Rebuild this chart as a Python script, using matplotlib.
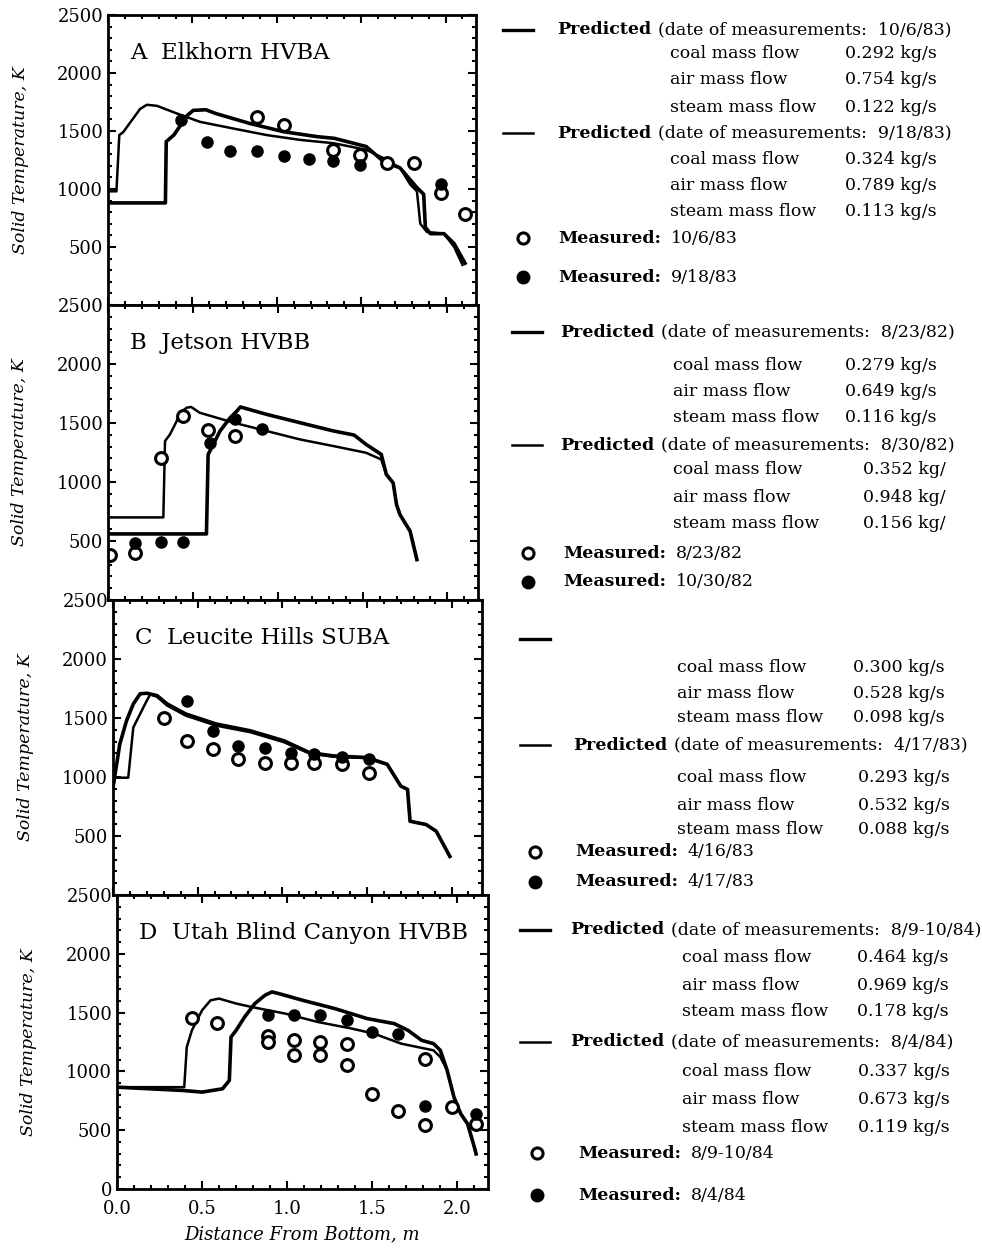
import matplotlib
matplotlib.use('Agg')
import matplotlib.pyplot as plt
from matplotlib.lines import Line2D
from matplotlib.ticker import MultipleLocator

plt.rcParams['font.family'] = 'DejaVu Serif'

W, H = 982, 1249

# ---- panel A: Elkhorn HVBA ----
a_pred1_x = [0.0, 0.05, 0.067, 0.09, 0.19, 0.23, 0.29, 0.41, 0.545, 0.74, 0.94, 1.14, 1.335, 1.53, 1.63, 1.73, 1.79, 1.83, 1.85, 1.89, 1.99, 2.05, 2.10]
a_pred1_T = [980, 980, 1465, 1490, 1690, 1726, 1717, 1650, 1579, 1522, 1465, 1423, 1395, 1338, 1267, 1182, 1040, 980, 700, 629, 615, 502, 346]
a_pred2_x = [0.0, 0.34, 0.345, 0.39, 0.43, 0.47, 0.505, 0.58, 0.64, 0.84, 1.04, 1.24, 1.34, 1.53, 1.63, 1.73, 1.83, 1.87, 1.88, 1.91, 1.99, 2.05, 2.115]
a_pred2_T = [880, 880, 1409, 1465, 1550, 1635, 1678, 1683, 1650, 1565, 1494, 1451, 1437, 1366, 1239, 1182, 1012, 955, 670, 615, 615, 530, 360]
a_open_x = [0.88, 1.04, 1.335, 1.49, 1.65, 1.81, 1.97, 2.115]
a_open_T = [1621, 1550, 1338, 1295, 1224, 1224, 969, 785]
a_fill_x = [0.43, 0.585, 0.72, 0.88, 1.04, 1.19, 1.335, 1.49, 1.97]
a_fill_T = [1593, 1403, 1324, 1324, 1281, 1258, 1238, 1210, 1040]

# ---- panel B: Jetson HVBB ----
b_pred1_x = [0.0, 0.326, 0.336, 0.365, 0.405, 0.424, 0.464, 0.49, 0.54, 0.64, 0.74, 0.935, 1.13, 1.33, 1.52, 1.61, 1.64, 1.68, 1.70, 1.72, 1.78, 1.82]
b_pred1_T = [700, 700, 1347, 1403, 1517, 1587, 1630, 1636, 1587, 1545, 1503, 1432, 1361, 1304, 1248, 1191, 1064, 993, 809, 724, 583, 342]
b_pred2_x = [0.0, 0.58, 0.59, 0.62, 0.66, 0.72, 0.76, 0.78, 0.935, 1.13, 1.33, 1.45, 1.52, 1.61, 1.64, 1.68, 1.70, 1.72, 1.78, 1.82]
b_pred2_T = [560, 560, 1234, 1318, 1432, 1545, 1602, 1636, 1573, 1503, 1432, 1398, 1319, 1234, 1064, 993, 809, 724, 583, 342]
b_open_x = [0.01, 0.16, 0.31, 0.44, 0.59, 0.75]
b_open_T = [385, 399, 1205, 1559, 1437, 1389]
b_fill_x = [0.16, 0.31, 0.44, 0.60, 0.75, 0.91]
b_fill_T = [484, 490, 490, 1327, 1530, 1446]

# ---- panel C: Leucite Hills SUBA ----
c_pred1_x = [0.0, 0.01, 0.09, 0.12, 0.16, 0.20, 0.22, 0.26, 0.32, 0.43, 0.61, 0.81, 1.01, 1.16, 1.30, 1.50, 1.62, 1.70, 1.74, 1.755, 1.85, 1.91, 1.99]
c_pred1_T = [937, 994, 994, 1420, 1534, 1648, 1700, 1680, 1605, 1520, 1435, 1380, 1295, 1200, 1172, 1160, 1105, 923, 895, 625, 597, 540, 327]
c_pred2_x = [0.0, 0.04, 0.08, 0.12, 0.16, 0.20, 0.26, 0.32, 0.43, 0.61, 0.81, 1.01, 1.16, 1.30, 1.50, 1.62, 1.70, 1.74, 1.755, 1.85, 1.91, 1.99]
c_pred2_T = [909, 1278, 1477, 1619, 1705, 1710, 1690, 1619, 1534, 1449, 1392, 1307, 1207, 1179, 1165, 1108, 923, 895, 625, 597, 540, 327]
c_open_x = [0.30, 0.44, 0.59, 0.74, 0.90, 1.05, 1.19, 1.35, 1.51]
c_open_T = [1500, 1307, 1236, 1151, 1122, 1122, 1122, 1108, 1037]
c_fill_x = [0.44, 0.59, 0.74, 0.90, 1.05, 1.19, 1.35, 1.51]
c_fill_T = [1642, 1386, 1264, 1244, 1207, 1193, 1170, 1150]

# ---- panel D: Utah Blind Canyon HVBB ----
d_pred1_x = [0.0, 0.395, 0.41, 0.44, 0.50, 0.55, 0.60, 0.70, 0.79, 0.99, 1.18, 1.38, 1.51, 1.67, 1.86, 1.90, 1.94, 1.98, 2.02, 2.06, 2.10, 2.11]
d_pred1_T = [866, 866, 1207, 1349, 1520, 1605, 1619, 1577, 1548, 1491, 1420, 1364, 1321, 1236, 1179, 1122, 1009, 781, 639, 554, 355, 298]
d_pred2_x = [0.0, 0.385, 0.50, 0.62, 0.66, 0.67, 0.70, 0.75, 0.81, 0.87, 0.91, 0.95, 1.09, 1.28, 1.47, 1.63, 1.71, 1.79, 1.86, 1.90, 1.94, 1.98, 2.02, 2.06, 2.10, 2.11]
d_pred2_T = [866, 838, 824, 852, 923, 1293, 1349, 1463, 1577, 1648, 1676, 1662, 1605, 1534, 1449, 1406, 1349, 1264, 1236, 1179, 1009, 781, 639, 554, 355, 298]
d_open_x = [0.44, 0.59, 0.89, 0.89, 1.04, 1.04, 1.19, 1.19, 1.35, 1.35, 1.50, 1.65, 1.81, 1.81, 1.97, 2.11]
d_open_T = [1457, 1415, 1301, 1250, 1270, 1136, 1250, 1136, 1230, 1051, 810, 662, 540, 1108, 696, 554]
d_fill_x = [0.89, 1.04, 1.19, 1.35, 1.50, 1.65, 1.81, 2.11]
d_fill_T = [1477, 1477, 1483, 1435, 1335, 1315, 710, 639]

titles = ['A  Elkhorn HVBA', 'B  Jetson HVBB', 'C  Leucite Hills SUBA', 'D  Utah Blind Canyon HVBB']

# legend texts
pred_dates = [['10/6/83', '9/18/83'], ['8/23/82', '8/30/82'], [None, '4/17/83'], ['8/9-10/84', '8/4/84']]
meas_dates = [['10/6/83', '9/18/83'], ['8/23/82', '10/30/82'], ['4/16/83', '4/17/83'], ['8/9-10/84', '8/4/84']]
flow_names = ['coal mass flow', 'air mass flow', 'steam mass flow']
flow_vals = [
    [['0.292 kg/s', '0.754 kg/s', '0.122 kg/s'], ['0.324 kg/s', '0.789 kg/s', '0.113 kg/s']],
    [['0.279 kg/s', '0.649 kg/s', '0.116 kg/s'], ['0.352 kg/', '0.948 kg/', '0.156 kg/']],
    [['0.300 kg/s', '0.528 kg/s', '0.098 kg/s'], ['0.293 kg/s', '0.532 kg/s', '0.088 kg/s']],
    [['0.464 kg/s', '0.969 kg/s', '0.178 kg/s'], ['0.337 kg/s', '0.673 kg/s', '0.119 kg/s']],
]

panels = [
    (a_pred1_x, a_pred1_T, a_pred2_x, a_pred2_T, a_open_x, a_open_T, a_fill_x, a_fill_T),
    (b_pred1_x, b_pred1_T, b_pred2_x, b_pred2_T, b_open_x, b_open_T, b_fill_x, b_fill_T),
    (c_pred1_x, c_pred1_T, c_pred2_x, c_pred2_T, c_open_x, c_open_T, c_fill_x, c_fill_T),
    (d_pred1_x, d_pred1_T, d_pred2_x, d_pred2_T, d_open_x, d_open_T, d_fill_x, d_fill_T),
]

# axes boxes in pixels (left, right, top, bottom) - scan is slightly skewed
boxes = [(108, 476, 15, 305), (108, 478, 305, 600), (113, 482, 600, 895), (117, 488, 895, 1189)]

# legend layout in pixels
leg = [
    dict(line_x=503, mark_x=523, pred_x=557, flow_x=670, val_x=[845, 845],
         pred_y=[30, 133], flow_y=[[53, 80, 107], [160, 185, 212]], meas_y=[238, 277], meas_tx=558),
    dict(line_x=512, mark_x=528, pred_x=560, flow_x=673, val_x=[845, 863],
         pred_y=[332, 445], flow_y=[[365, 392, 418], [470, 497, 523]], meas_y=[553, 582], meas_tx=563),
    dict(line_x=520, mark_x=535, pred_x=573, flow_x=677, val_x=[853, 858],
         pred_y=[639, 745], flow_y=[[667, 693, 718], [777, 805, 830]], meas_y=[852, 882], meas_tx=575),
    dict(line_x=520, mark_x=537, pred_x=570, flow_x=682, val_x=[857, 858],
         pred_y=[930, 1042], flow_y=[[958, 985, 1012], [1072, 1099, 1127]], meas_y=[1153, 1195], meas_tx=578),
]


def fx(px):
    return px / W


def fy(py):
    return 1 - py / H


fig = plt.figure(figsize=(W / 100, H / 100), dpi=100)
renderer = fig.canvas.get_renderer()


def text_after(first, gap, s, **kw):
    # put s right after the text artist `first`
    bb = first.get_window_extent(renderer=renderer)
    x, y = first.get_position()
    return fig.text(fx(bb.x1 + gap), y, s, **kw)


for i, (p, box) in enumerate(zip(panels, boxes)):
    l, r, t, b = box
    ax = fig.add_axes([fx(l), fy(b), (r - l) / W, (b - t) / H])
    p1x, p1T, p2x, p2T, ox, oT, fxs, fT = p
    ax.plot(p1x, p1T, color='black', lw=1.8)
    ax.plot(p2x, p2T, color='black', lw=2.6)
    ax.plot(ox, oT, 'o', ms=8.5, mfc='white', mec='black', mew=2.2, ls='none')
    ax.plot(fxs, fT, 'o', ms=8, color='black', ls='none')
    ax.set_xlim(0, 2.18)
    ax.set_ylim(0, 2500)
    ax.xaxis.set_major_locator(MultipleLocator(0.5))
    ax.xaxis.set_minor_locator(MultipleLocator(0.1))
    ax.set_yticks(range(0, 2501, 100), minor=True)
    ax.tick_params(which='both', direction='in', top=True, right=True, labelsize=13, width=1.5)
    ax.tick_params(which='major', length=6)
    ax.tick_params(which='minor', length=3)
    ax.tick_params(axis='x', pad=8)
    for s in ax.spines.values():
        s.set_linewidth(2)
    if i < 3:
        ax.set_yticks([500, 1000, 1500, 2000, 2500])
        ax.tick_params(labelbottom=False)
    else:
        ax.set_yticks([0, 500, 1000, 1500, 2000, 2500])
        ax.set_xticks([0.0, 0.5, 1.0, 1.5, 2.0])
        ax.set_xticklabels(['0.0', '0.5', '1.0', '1.5', '2.0'])
        ax.set_xlabel('Distance From Bottom, m', fontsize=13, style='italic', labelpad=5)
    ax.set_ylabel('Solid Temperature, K', fontsize=12.5, style='italic')
    ax.yaxis.set_label_coords(-0.215, 0.5)
    ax.text(0.06, 0.87, titles[i], transform=ax.transAxes, fontsize=16.5, va='center')

# legend text on the right
fs = 12.5
for i, L in enumerate(leg):
    for k in range(2):
        y = L['pred_y'][k]
        fig.add_artist(Line2D([fx(L['line_x']), fx(L['line_x'] + 30)], [fy(y), fy(y)],
                              color='black', lw=2.4 if k == 0 else 1.8))
        if pred_dates[i][k] is not None:
            t = fig.text(fx(L['pred_x']), fy(y), 'Predicted', fontsize=fs, fontweight='bold', va='center')
            text_after(t, 7, '(date of measurements:  ' + pred_dates[i][k] + ')', fontsize=fs, va='center')
        for j in range(3):
            yy = L['flow_y'][k][j]
            fig.text(fx(L['flow_x']), fy(yy), flow_names[j], fontsize=fs, va='center')
            fig.text(fx(L['val_x'][k]), fy(yy), flow_vals[i][k][j], fontsize=fs, va='center')
    for k in range(2):
        y = L['meas_y'][k]
        if k == 0:
            fig.add_artist(Line2D([fx(L['mark_x'])], [fy(y)], marker='o', ms=8, mfc='white',
                                  mec='black', mew=2.2, ls='none'))
        else:
            fig.add_artist(Line2D([fx(L['mark_x'])], [fy(y)], marker='o', ms=9, color='black', ls='none'))
        t = fig.text(fx(L['meas_tx']), fy(y), 'Measured:', fontsize=fs, fontweight='bold', va='center')
        text_after(t, 10, meas_dates[i][k], fontsize=fs, va='center')

fig.savefig('out.png', dpi=100)
